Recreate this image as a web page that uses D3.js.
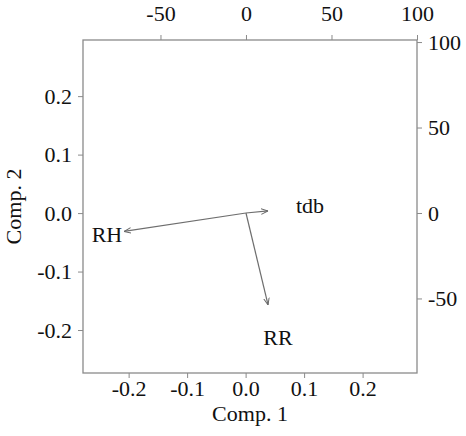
<!DOCTYPE html>
<html>
<head>
<meta charset="utf-8">
<script src="https://cdn.jsdelivr.net/npm/d3@7"></script>
<style>
  body { margin: 0; background: #fff; }
  svg text { font-family: "Liberation Serif", "Times New Roman", serif; fill: #111; }
</style>
</head>
<body>
<svg width="466" height="436"></svg>
<script>
/*
Biplot of the first two principal components.
Scores axes (bottom/left) and loading axes (top/right).
*/
var variables = ["tdb", "RH", "RR"];
// arrow tips, in loading units (top/right axes)
var loadX = [12.9, -71.3, 12.9],
    loadY = [1.2, -10.8, -53.8];
// label centres, in loading units
var labelX = [37.4, -81.3, 18.7],
    labelY = [4.7, -12.3, -72.5];

var scoreTicks = [-0.2, -0.1, 0.0, 0.1, 0.2];
var loadTicks = [-50, 0, 50, 100];

var svg = d3.select("svg"),
    box = {left: 83, right: 417, top: 40, bottom: 373};

var xScale = d3.scaleLinear().domain([-0.278, 0.293]).range([box.left, box.right]),
    yScale = d3.scaleLinear().domain([-0.2735, 0.296]).range([box.bottom, box.top]),
    x2Scale = d3.scaleLinear().domain([-95.3, 100]).range([box.left, box.right]),
    y2Scale = d3.scaleLinear().domain([-93.6, 101.2]).range([box.bottom, box.top]);

var grey = "#8a8a8a",
    fontSize = "22px";

// R style labels: plain hyphen for the minus sign
var fmtScore = function(d) { return d.toFixed(1); },
    fmtLoad = function(d) { return String(d); };

function styleAxis(sel) {
    sel.select(".domain").remove();
    sel.selectAll(".tick line").attr("stroke", grey);
    sel.selectAll(".tick text").style("font-size", fontSize).attr("fill", "#111");
}

svg.append("g")
    .attr("transform", "translate(0," + box.bottom + ")")
    .call(d3.axisBottom(xScale).tickValues(scoreTicks).tickFormat(fmtScore).tickSize(5).tickPadding(2))
    .call(styleAxis);

svg.append("g")
    .attr("transform", "translate(" + box.left + ",0)")
    .call(d3.axisLeft(yScale).tickValues(scoreTicks).tickFormat(fmtScore).tickSize(5).tickPadding(6))
    .call(styleAxis);

svg.append("g")
    .attr("transform", "translate(0," + box.top + ")")
    .call(d3.axisTop(x2Scale).tickValues(loadTicks).tickFormat(fmtLoad).tickSize(5).tickPadding(14))
    .call(styleAxis);

svg.append("g")
    .attr("transform", "translate(" + box.right + ",0)")
    .call(d3.axisRight(y2Scale).tickValues(loadTicks).tickFormat(fmtLoad).tickSize(5).tickPadding(6))
    .call(styleAxis);

// frame
svg.append("rect")
    .attr("x", box.left)
    .attr("y", box.top)
    .attr("width", box.right - box.left)
    .attr("height", box.bottom - box.top)
    .attr("fill", "none")
    .attr("stroke", grey)
    .attr("stroke-width", 1.3);

// open arrow heads
svg.append("defs").append("marker")
    .attr("id", "head")
    .attr("viewBox", "0 0 10 10")
    .attr("refX", 10)
    .attr("refY", 5)
    .attr("markerWidth", 7)
    .attr("markerHeight", 7)
    .attr("markerUnits", "userSpaceOnUse")
    .attr("orient", "auto")
    .append("path")
    .attr("d", "M0,1 L10,5 L0,9")
    .attr("fill", "none")
    .attr("stroke", "#666")
    .attr("stroke-width", 1.4);

var arrows = svg.append("g");
variables.forEach(function(v, i) {
    arrows.append("line")
        .attr("x1", x2Scale(0))
        .attr("y1", y2Scale(0))
        .attr("x2", x2Scale(loadX[i]))
        .attr("y2", y2Scale(loadY[i]))
        .attr("stroke", "#6e6e6e")
        .attr("stroke-width", 1.2)
        .attr("marker-end", "url(#head)");

    arrows.append("text")
        .attr("x", x2Scale(labelX[i]))
        .attr("y", y2Scale(labelY[i]))
        .attr("text-anchor", "middle")
        .attr("dy", "0.35em")
        .style("font-size", fontSize)
        .text(v);
});

// axis titles
svg.append("text")
    .attr("x", (box.left + box.right) / 2)
    .attr("y", 421)
    .attr("text-anchor", "middle")
    .style("font-size", fontSize)
    .text("Comp. 1");

svg.append("text")
    .attr("transform", "translate(21," + ((box.top + box.bottom) / 2) + ")rotate(-90)")
    .attr("text-anchor", "middle")
    .style("font-size", fontSize)
    .text("Comp. 2");
</script>
</body>
</html>
